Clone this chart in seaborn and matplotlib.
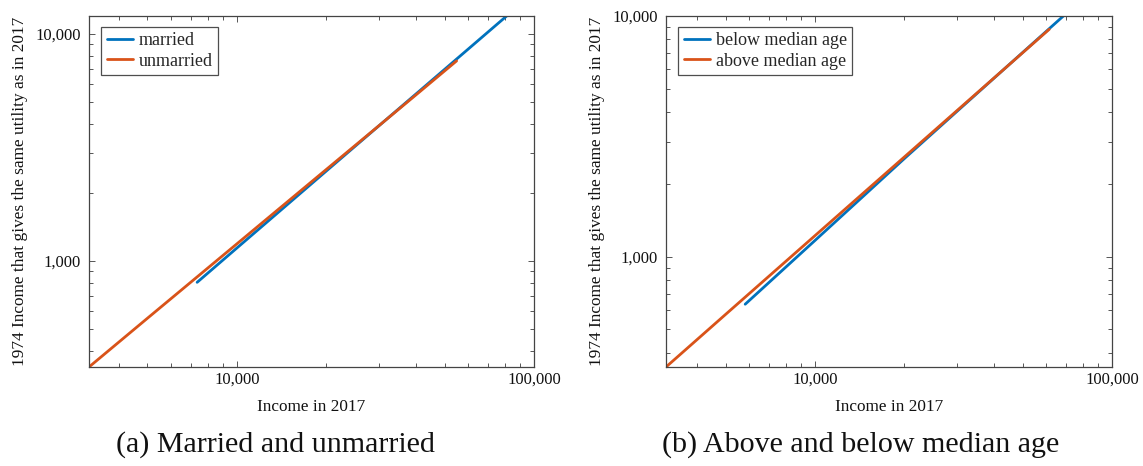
import numpy as np
import pandas as pd
import matplotlib
matplotlib.use("Agg")
import matplotlib.pyplot as plt
import matplotlib.ticker as mticker
import seaborn as sns

# Panel (a): married vs unmarried
married_x = [7350, 10000, 20000, 40000, 60000, 80900]
married_y = [805, 1140, 2490, 5430, 8570, 12000]
unmarried_x = [3180, 5000, 10000, 20000, 40000, 54900]
unmarried_y = [341, 559, 1189, 2530, 5380, 7610]

# Panel (b): below vs above median age
below_x = [5820, 10000, 20000, 40000, 68600]
below_y = [636, 1170, 2560, 5510, 10000]
above_x = [3150, 5000, 10000, 20000, 40000, 61500]
above_y = [349, 577, 1225, 2600, 5520, 8810]

BLUE = "#0072BD"
ORANGE = "#D95319"

sns.set_theme(style="white")
plt.rcParams["font.family"] = ["Liberation Serif", "DejaVu Serif"]

fig = plt.figure(figsize=(11.43, 4.66), dpi=100)
ax_a = fig.add_axes([89 / 1143, 1 - 367 / 466, 445 / 1143, 351 / 466])
ax_b = fig.add_axes([666 / 1143, 1 - 367 / 466, 446 / 1143, 351 / 466])


def frame(xs, ys, name):
    return pd.DataFrame({"x": xs, "y": ys, "group": name})


def comma(v, pos):
    return f"{int(round(v)):,}"


def style(ax, xlim, ylim):
    ax.set_xscale("log")
    ax.set_yscale("log")
    ax.set_xlim(*xlim)
    ax.set_ylim(*ylim)
    ax.xaxis.set_major_locator(mticker.LogLocator(base=10))
    ax.yaxis.set_major_locator(mticker.LogLocator(base=10))
    ax.xaxis.set_minor_locator(mticker.LogLocator(base=10, subs=np.arange(2, 10)))
    ax.yaxis.set_minor_locator(mticker.LogLocator(base=10, subs=np.arange(2, 10)))
    ax.xaxis.set_major_formatter(mticker.FuncFormatter(comma))
    ax.yaxis.set_major_formatter(mticker.FuncFormatter(comma))
    ax.xaxis.set_minor_formatter(mticker.NullFormatter())
    ax.yaxis.set_minor_formatter(mticker.NullFormatter())
    ax.tick_params(which="both", direction="in", top=True, right=True,
                   bottom=True, left=True, color="#555555", width=0.7,
                   labelsize=12, labelcolor="#111111")
    ax.tick_params(which="major", length=4.5)
    ax.tick_params(axis="x", which="major", pad=3.5)
    ax.tick_params(axis="y", which="major", pad=6)
    ax.tick_params(which="minor", length=2.6)
    for s in ax.spines.values():
        s.set_color("#444444")
        s.set_linewidth(0.9)
    ax.set_xlabel("Income in 2017", fontsize=12.4, color="#111111", labelpad=8)
    ax.set_ylabel("1974 Income that gives the same utility as in 2017",
                  fontsize=12.4, color="#111111", labelpad=5)
    leg = ax.legend(loc="upper left", fontsize=13, frameon=True,
                    fancybox=False, handlelength=1.45, handletextpad=0.3,
                    borderpad=0.3, labelspacing=0.2,
                    bbox_to_anchor=(0.028, 0.97), borderaxespad=0)
    leg.get_frame().set_edgecolor("#222222")
    leg.get_frame().set_linewidth(0.9)
    for h in leg.get_lines():
        h.set_linewidth(2.0)


df_a = pd.concat([frame(married_x, married_y, "married"),
                  frame(unmarried_x, unmarried_y, "unmarried")])
sns.lineplot(data=df_a, x="x", y="y", hue="group", sort=False,
             palette={"married": BLUE, "unmarried": ORANGE},
             linewidth=2.0, ax=ax_a)
style(ax_a, (3180, 100000), (341, 12000))

df_b = pd.concat([frame(below_x, below_y, "below median age"),
                  frame(above_x, above_y, "above median age")])
sns.lineplot(data=df_b, x="x", y="y", hue="group", sort=False,
             palette={"below median age": BLUE, "above median age": ORANGE},
             linewidth=2.0, ax=ax_b)
style(ax_b, (3150, 100000), (349, 10000))

fig.text(275 / 1143, 1 - 445 / 466, "(a) Married and unmarried",
         fontsize=21.6, ha="center", va="center", color="#111111")
fig.text(861 / 1143, 1 - 445 / 466, "(b) Above and below median age",
         fontsize=21.6, ha="center", va="center", color="#111111")

fig.savefig("out.png", dpi=100)
